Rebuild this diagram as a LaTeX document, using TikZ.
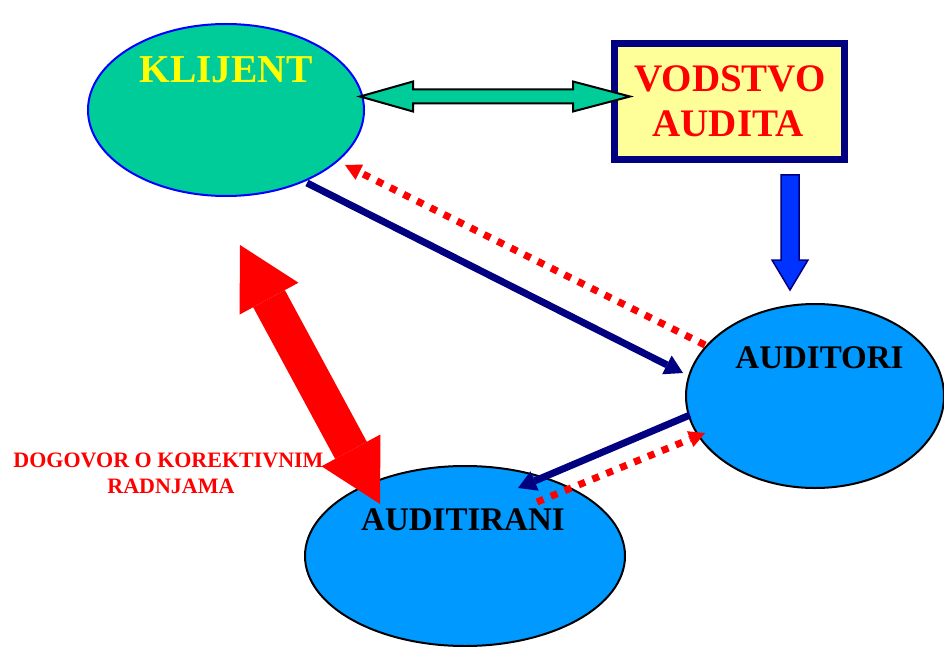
\documentclass[tikz,border=0pt]{standalone}
\usepackage{fontspec}
\setmainfont{Liberation Serif}
\usetikzlibrary{arrows.meta,calc,shapes.geometric}
\definecolor{kgreen}{RGB}{0,204,153}
\definecolor{lyellow}{RGB}{255,255,153}
\definecolor{navy}{RGB}{0,0,128}
\definecolor{ablue}{RGB}{0,153,255}
\definecolor{arrblue}{RGB}{0,51,255}
\definecolor{pred}{RGB}{255,0,0}
\definecolor{pyellow}{RGB}{255,255,0}
\tikzset{
  oval/.style={ellipse, inner sep=0pt, line width=2pt},
  navyarrow/.style={draw=navy, line width=7pt, -{Triangle[length=18pt,width=21pt,line width=0pt]}},
  reddot/.style={draw=pred, line width=7pt, dash pattern=on 7pt off 8pt, -{Triangle[length=16pt,width=17pt,line width=0pt]}},
  bigtxt/.style={anchor=base, font=\bfseries\fontsize{33}{36}\selectfont},
  lbl/.style={anchor=base, text=pred, font=\bfseries\fontsize{22}{24}\selectfont}
}
\begin{document}
\begin{tikzpicture}[x=1pt,y=-1pt]
\useasboundingbox (0,0) rectangle (944,647);
% nodes
\node[oval, draw=blue, fill=kgreen, minimum width=276pt, minimum height=172pt] (klijent) at (226,110) {};
\node[oval, draw=black, fill=ablue, minimum width=258pt, minimum height=184pt] (auditori) at (815,396) {};
\node[oval, draw=black, fill=ablue, minimum width=320pt, minimum height=180pt] (auditirani) at (465,556) {};
\node[draw=navy, line width=7pt, fill=lyellow, minimum width=230pt, minimum height=116pt, inner sep=0pt] (vodstvo) at (729.5,101.5) {};
% green double arrow
\draw[line width=2pt, fill=kgreen, line join=miter]
  (360,96.5) -- (413,81.5) -- (413,89.5) -- (573,89.5) -- (573,81.5) -- (630,96.5)
  -- (573,111.5) -- (573,103.5) -- (413,103.5) -- (413,111.5) -- cycle;
% blue down arrow
\draw[draw=navy, line width=1.5pt, fill=arrblue, line join=miter]
  (781,175) -- (799,175) -- (799,260) -- (808,260) -- (790,290) -- (772,260) -- (781,260) -- cycle;
% connectors
\draw[navyarrow] ($(klijent.center)+(81,73)$) -- ($(auditori.center)+(-132,-23)$);
\draw[reddot] ($(auditori.center)+(-110,-51)$) -- ($(klijent.center)+(119,55)$);
\draw[navyarrow] ($(auditori.center)+(-125,19)$) -- ($(auditirani.center)+(53,-68)$);
\draw[reddot] ($(auditirani.center)+(72,-54)$) -- ($(auditori.center)+(-110,37)$);
% texts
\node[anchor=base, text=pyellow, font=\bfseries\fontsize{39.5}{42}\selectfont] (tk) at (226,83) {KLIJENT};
\node[anchor=base, text=pred, font=\bfseries\fontsize{39}{44}\selectfont] (tv1) at (730,92) {VODSTVO};
\node[anchor=base, text=pred, font=\bfseries\fontsize{39}{44}\selectfont] (tv2) at (728,137) {AUDITA};
\node[bigtxt] (ta) at (819.5,368) {AUDITORI};
\node[bigtxt] (tr) at (463,530) {AUDITIRANI};
\node[lbl] (l1) at (168.5,467) {DOGOVOR O KOREKTIVNIM};
\node[lbl] (l2) at (171,493) {RADNJAMA};
% big red double arrow
\draw[draw=pred, line width=36pt,
  {Triangle[width=67pt,length=61pt,line width=0pt]}-{Triangle[width=67pt,length=61pt,line width=0pt]}]
  ($(klijent.center)+(14,135)$) -- ($(auditirani.center)+(-85,-52)$);
\end{tikzpicture}
\end{document}
